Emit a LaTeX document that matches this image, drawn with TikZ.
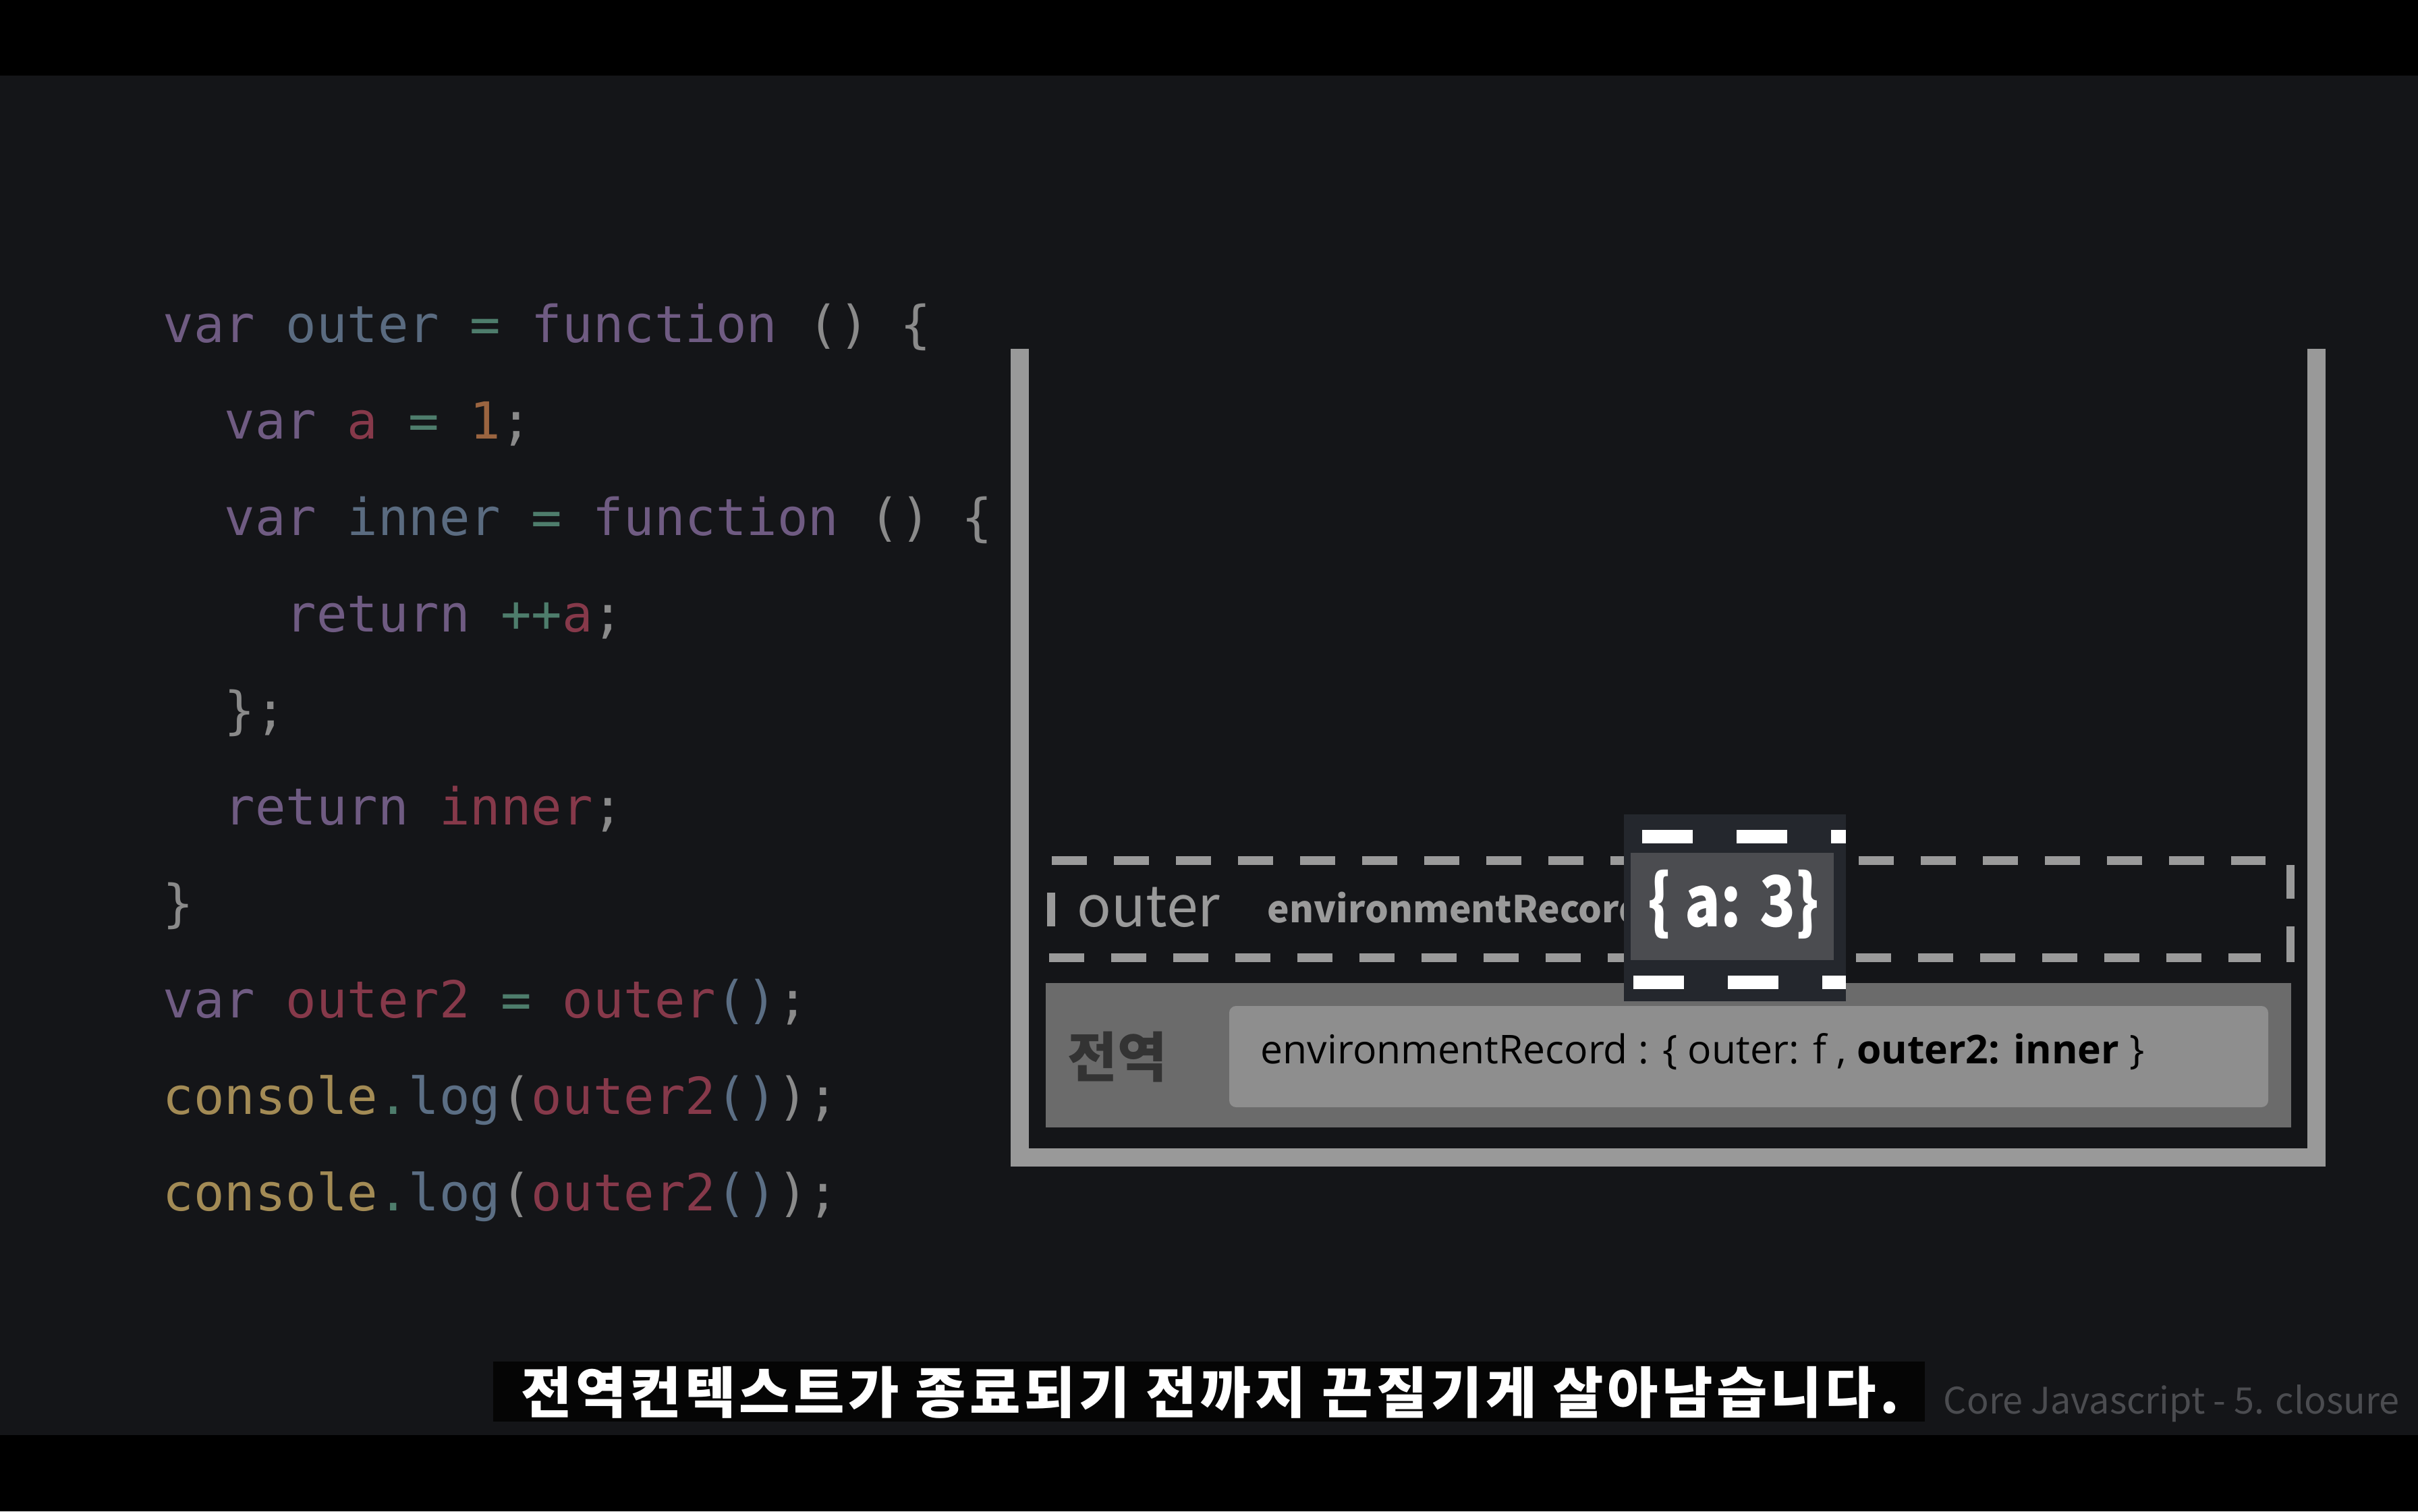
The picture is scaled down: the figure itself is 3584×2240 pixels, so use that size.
\documentclass[tikz,border=0pt]{standalone}
\usepackage{fontspec}
\usepackage{graphicx}
\setmonofont{DejaVu Sans Mono}
\newfontfamily\kr{Noto Sans CJK KR}
\newfontfamily\krsub{Noto Sans CJK KR}[LetterSpace=6.5]
\newfontfamily\lat{Open Sans}
\definecolor{bgc}{HTML}{141518}
\definecolor{framec}{HTML}{999999}
\definecolor{globc}{HTML}{6B6B6B}
\definecolor{globin}{HTML}{8E8E8E}
\definecolor{dashc}{HTML}{9A9A9A}
\definecolor{aboxc}{HTML}{24272D}
\definecolor{ainc}{HTML}{4B4C50}
\definecolor{ckw}{HTML}{6F5B82}
\definecolor{cid}{HTML}{5A6B80}
\definecolor{cop}{HTML}{4E7D6C}
\definecolor{cpn}{HTML}{8A8A8A}
\definecolor{crd}{HTML}{86394A}
\definecolor{cnm}{HTML}{9A6440}
\definecolor{cyl}{HTML}{A38B55}
\definecolor{cbl}{HTML}{5B6E84}
\newcommand\ccK[1]{\textcolor{ckw}{#1}}
\newcommand\ccI[1]{\textcolor{cid}{#1}}
\newcommand\ccO[1]{\textcolor{cop}{#1}}
\newcommand\ccP[1]{\textcolor{cpn}{#1}}
\newcommand\ccR[1]{\textcolor{crd}{#1}}
\newcommand\ccN[1]{\textcolor{cnm}{#1}}
\newcommand\ccY[1]{\textcolor{cyl}{#1}}
\newcommand\ccB[1]{\textcolor{cbl}{#1}}
\begin{document}
\begin{tikzpicture}[x=0.25pt,y=-0.25pt,
  codeline/.style={anchor=base west,inner sep=0pt,font=\ttfamily\fontsize{18.9pt}{22pt}\selectfont},
  lbl/.style={inner sep=0pt,font=\kr},
  dline/.style={draw=dashc,line width=3.25pt,dash pattern=on 13pt off 10pt},
  wdash/.style={draw=white,line width=5pt,dash pattern=on 18.75pt off 16.25pt}]
% background
\fill[black] (0,0) rectangle (3584,2240);
\fill[bgc] (0,112) rectangle (3584,2127);
\useasboundingbox (0,0) rectangle (3584,2240);
% code
\node[codeline] (c1) at (241,507) {\ccK{var} \ccI{outer} \ccO{=} \ccK{function} \ccP{()} \ccP{\{}};
\node[codeline] (c2) at (332,650) {\ccK{var} \ccR{a} \ccO{=} \ccN{1}\ccP{;}};
\node[codeline] (c3) at (332,793) {\ccK{var} \ccI{inner} \ccO{=} \ccK{function} \ccP{()} \ccP{\{}};
\node[codeline] (c4) at (423,936) {\ccK{return} \ccO{++}\ccR{a}\ccP{;}};
\node[codeline] (c5) at (332,1079) {\ccP{\};}};
\node[codeline] (c6) at (332,1222) {\ccK{return} \ccR{inner}\ccP{;}};
\node[codeline] (c7) at (241,1365) {\ccP{\}}};
\node[codeline] (c8) at (241,1508) {\ccK{var} \ccR{outer2} \ccO{=} \ccR{outer}\ccB{()}\ccP{;}};
\node[codeline] (c9) at (241,1651) {\ccY{console}\ccO{.}\ccB{log}\ccP{(}\ccR{outer2}\ccB{()}\ccP{);}};
\node[codeline] (c10) at (241,1794) {\ccY{console}\ccO{.}\ccB{log}\ccP{(}\ccR{outer2}\ccB{()}\ccP{);}};
% stack frame (U shape)
\draw[framec,line width=6.75pt,line join=miter] (1511,517) -- (1511,1715) -- (3433,1715) -- (3433,517);
% global context
\fill[globc] (1550,1457) rectangle (3396,1671);
\fill[globin,rounded corners=2.5pt] (1822,1491) rectangle (3362,1641);
\node[lbl,font=\kr\bfseries\fontsize{20pt}{24pt}\selectfont,text=black!80] (glob) at (1656,1567) {전역};
\node[lbl,anchor=base west,font=\lat\fontsize{14.7pt}{17pt}\selectfont,text=black] (genv) at (1868,1576) {environmentRecord : \{ outer: f , \textbf{outer2: inner} \}};
% outer context (dashed)
\draw[dline] (1559,1275) -- (3358,1275);
\draw[dline] (1555,1419) -- (3351,1419);
\draw[draw=dashc,line width=3pt] (1558,1323) -- (1558,1373);
\draw[draw=dashc,line width=3pt] (3395,1282) -- (3395,1332);
\draw[draw=dashc,line width=3pt] (3395,1373) -- (3395,1426);
\node[lbl,anchor=base west,font=\kr\fontsize{21pt}{25pt}\selectfont,text=dashc] (outer) at (1596,1373) {outer};
\node[lbl,anchor=base west,font=\kr\bfseries\fontsize{13.7pt}{16pt}\selectfont,text=dashc] (oenv) at (1878,1367) {environmentRecord};
% {a: 3} box
\fill[aboxc] (2407,1207) rectangle (2736,1484);
\fill[ainc] (2417,1264) rectangle (2718,1423);
\draw[wdash] (2434,1240) -- (2736,1240);
\draw[wdash] (2421,1456) -- (2736,1456);
\node[lbl,anchor=base west,font=\kr\bfseries\fontsize{26pt}{30pt}\selectfont,text=white] (arec) at (2442,1373) {\scalebox{0.84}[1]{\{ a: 3\}}};
% subtitle
\fill[black!98] (731,2018) rectangle (2853,2107);
\node[lbl,font=\krsub\bfseries\fontsize{20.5pt}{24pt}\selectfont,text=white] (sub) at (1794,2064) {전역컨텍스트가 종료되기 전까지 끈질기게 살아남습니다.};
\node[lbl,anchor=base west,font=\kr\fontsize{13.5pt}{16pt}\selectfont,text={rgb,255:red,75;green,76;blue,80}] (credit) at (2880,2095) {Core Javascript - 5. closure};
\end{tikzpicture}
\end{document}
